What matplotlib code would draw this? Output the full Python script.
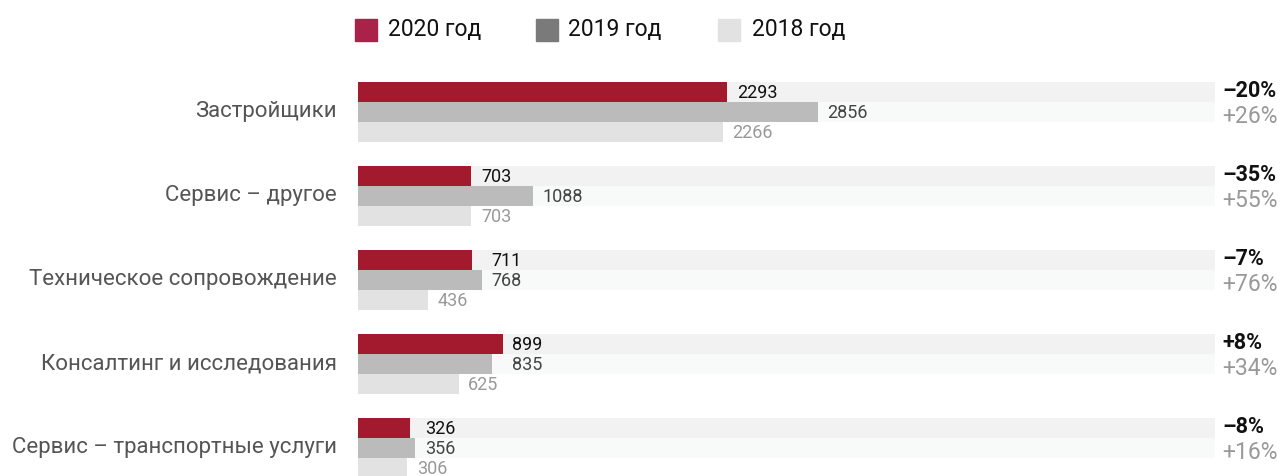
import matplotlib
matplotlib.use("Agg")
import matplotlib.pyplot as plt
from matplotlib.patches import Rectangle
from matplotlib.transforms import blended_transform_factory

# data
categories = ["Застройщики", "Сервис – другое", "Техническое сопровождение",
              "Консалтинг и исследования", "Сервис – транспортные услуги"]
v2020 = [2293, 703, 711, 899, 326]
v2019 = [2856, 1088, 768, 835, 356]
v2018 = [2266, 703, 436, 625, 306]
chg_2020 = ["–20%", "–35%", "–7%", "+8%", "–8%"]
chg_2019 = ["+26%", "+55%", "+76%", "+34%", "+16%"]
years = ["2020 год", "2019 год", "2018 год"]

plt.rcParams['font.family'] = ['Roboto', 'DejaVu Sans']

W, H = 1285, 476
fig = plt.figure(figsize=(W / 100, H / 100), dpi=100)
ax = fig.add_axes([358 / W, 0, 857 / W, 1])
xmax = 857 / 0.161
ax.set_xlim(0, xmax)
ax.set_ylim(H / 20, 0)
ax.axis('off')

bar_colors = ['#a3192e', '#bbbbbb', '#e2e2e2']
lab_colors = ['#111111', '#444444', '#999999']
stripe_colors = ['#f2f2f2', '#f8f9f9']
trans = blended_transform_factory(ax.transAxes, ax.transData)

for i, cat in enumerate(categories):
    top = 4.1 + 4.2 * i
    rows = [top + 0.5, top + 1.5, top + 2.5]
    vals = [v2020[i], v2019[i], v2018[i]]

    # background stripes behind the first two rows
    for r, sc in zip(rows[:2], stripe_colors):
        ax.barh(r, xmax, height=1.0, color=sc, zorder=0)

    for r, v, c in zip(rows, vals, bar_colors):
        ax.barh(r, v, height=1.0, color=c, zorder=2)

    # value labels: 2020 and 2019 share a column when close in size
    a, b, c = vals
    lx = [a if b > 1.2 * a else max(a, b), max(a, b), c]
    for r, x, v, col in zip(rows, lx, vals, lab_colors):
        ax.annotate(str(v), xy=(x, r), xytext=(7, -1), textcoords='offset points',
                    ha='left', va='center', fontsize=13, color=col, zorder=3)

    ax.annotate(cat, xy=(0, rows[1]), xytext=(-15, 0), textcoords='offset points',
                ha='right', va='center', fontsize=16, color='#555555',
                annotation_clip=False)

    ax.annotate(chg_2020[i], xy=(1, rows[0]), xytext=(5, 1), textcoords='offset points',
                xycoords=trans, ha='left', va='center', fontsize=15.5,
                fontweight='bold', color='#111111', annotation_clip=False)
    ax.annotate(chg_2019[i], xy=(1, rows[1]), xytext=(5, -3), textcoords='offset points',
                xycoords=trans, ha='left', va='center', fontsize=16.5,
                color='#999999', annotation_clip=False)

# legend drawn by hand across the top
leg_colors = ['#aa2249', '#7a7a7a', '#e2e2e2']
sq_x = [355, 536, 718]
txt_x = [388, 568, 752]
for sx, tx, lc, lab in zip(sq_x, txt_x, leg_colors, years):
    fig.patches.append(Rectangle((sx / W, 1 - 41 / H), 22 / W, 22 / H,
                                 transform=fig.transFigure, color=lc))
    fig.text(tx / W, 1 - 30 / H, lab, ha='left', va='center', fontsize=16.5,
             color='#111111')

fig.savefig('out.png', dpi=100)
